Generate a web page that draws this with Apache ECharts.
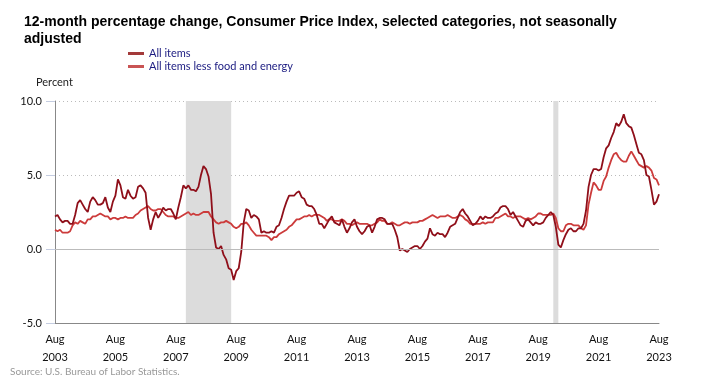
<!DOCTYPE html>
<html><head><meta charset="utf-8">
<script src="https://cdn.jsdelivr.net/npm/echarts@6/dist/echarts.min.js"></script>
<style>html,body{margin:0;padding:0;background:#fff}#c{width:707px;height:384px}</style>
</head><body><div id="c"></div>
<script>
// Monthly, Aug 2003 .. Aug 2023
const startYear = 2003, startMonth = 8;
const allItems = [
  2.2,2.3,2.0,1.8,1.9,
  1.9,1.7,1.7,2.3,3.1,3.3,3.0,2.7,2.5,3.2,3.5,3.3,
  3.0,3.0,3.1,3.5,2.8,2.5,3.2,3.6,4.7,4.3,3.5,3.4,
  4.0,3.6,3.4,3.5,4.2,4.3,4.1,3.8,2.1,1.3,2.0,2.5,
  2.1,2.4,2.8,2.6,2.7,2.7,2.4,2.0,2.8,3.5,4.3,4.1,
  4.3,4.0,4.0,3.9,4.2,5.0,5.6,5.4,4.9,3.7,1.1,0.1,
  0.0,0.2,-0.4,-0.7,-1.3,-1.4,-2.1,-1.5,-1.3,-0.2,1.8,2.7,
  2.6,2.1,2.3,2.2,2.0,1.1,1.2,1.1,1.1,1.2,1.1,1.5,
  1.6,2.1,2.7,3.2,3.6,3.6,3.6,3.8,3.9,3.5,3.4,3.0,
  2.9,2.9,2.7,2.3,1.7,1.7,1.4,1.7,2.0,2.2,1.8,1.7,
  1.6,2.0,1.5,1.1,1.4,1.8,2.0,1.5,1.2,1.0,1.2,1.5,
  1.6,1.1,1.5,2.0,2.1,2.1,2.0,1.7,1.7,1.7,1.3,0.8,
  -0.1,0.0,-0.1,-0.2,0.0,0.1,0.2,0.2,0.0,0.2,0.5,0.7,
  1.4,1.0,0.9,1.1,1.0,1.0,0.8,1.1,1.5,1.6,1.7,2.1,
  2.5,2.7,2.4,2.2,1.9,1.6,1.7,1.9,2.2,2.0,2.2,2.1,
  2.1,2.2,2.4,2.5,2.8,2.9,2.9,2.7,2.3,2.5,2.2,1.9,
  1.6,1.5,1.9,2.0,1.8,1.6,1.8,1.7,1.7,1.8,2.1,2.3,
  2.5,2.3,1.5,0.3,0.1,0.6,1.0,1.3,1.4,1.2,1.2,1.4,
  1.4,1.7,2.6,4.2,5.0,5.4,5.4,5.3,5.4,6.2,6.8,7.0,
  7.5,7.9,8.5,8.3,8.6,9.1,8.5,8.3,8.2,7.7,7.1,6.5,
  6.4,6.0,5.0,4.9,4.0,3.0,3.2,3.7
];
const lessFoodEnergy = [
  1.3,1.2,1.3,1.1,1.1,
  1.1,1.2,1.6,1.8,1.7,1.9,1.8,1.7,2.0,2.0,2.2,2.2,
  2.3,2.4,2.3,2.2,2.2,2.0,2.1,2.1,2.0,2.1,2.1,2.2,
  2.1,2.1,2.1,2.3,2.4,2.6,2.7,2.8,2.9,2.7,2.6,2.6,
  2.7,2.7,2.5,2.3,2.2,2.2,2.2,2.1,2.1,2.2,2.3,2.4,
  2.5,2.3,2.4,2.3,2.3,2.4,2.5,2.5,2.5,2.2,2.0,1.8,
  1.7,1.8,1.8,1.9,1.8,1.7,1.5,1.4,1.5,1.7,1.7,1.8,
  1.6,1.3,1.1,0.9,0.9,0.9,0.9,0.9,0.8,0.6,0.8,0.8,
  1.0,1.1,1.2,1.3,1.5,1.6,1.8,2.0,2.0,2.1,2.2,2.2,
  2.3,2.2,2.3,2.3,2.3,2.2,2.1,1.9,2.0,2.0,1.9,1.9,
  1.9,2.0,1.9,1.7,1.7,1.6,1.7,1.8,1.7,1.7,1.7,1.7,
  1.6,1.6,1.7,1.8,2.0,1.9,1.9,1.7,1.7,1.8,1.7,1.6,
  1.6,1.7,1.8,1.8,1.7,1.8,1.8,1.8,1.9,1.9,2.0,2.1,
  2.2,2.3,2.2,2.1,2.2,2.2,2.2,2.3,2.2,2.1,2.1,2.2,
  2.3,2.2,2.0,1.9,1.7,1.7,1.7,1.7,1.7,1.8,1.7,1.8,
  1.8,1.8,2.1,2.1,2.2,2.3,2.4,2.2,2.2,2.1,2.2,2.2,
  2.2,2.1,2.0,2.1,2.0,2.1,2.2,2.4,2.4,2.3,2.3,2.3,
  2.3,2.4,2.1,1.4,1.2,1.2,1.6,1.7,1.7,1.6,1.6,1.6,
  1.4,1.3,1.6,3.0,3.8,4.5,4.3,4.0,4.0,4.6,4.9,5.5,
  6.0,6.4,6.5,6.2,6.0,5.9,5.9,6.3,6.6,6.3,6.0,5.7,
  5.6,5.5,5.6,5.5,5.3,4.8,4.7,4.3
];
const monthNames = ['Jan','Feb','Mar','Apr','May','Jun','Jul','Aug','Sep','Oct','Nov','Dec'];
const yTicks = [-5, 0, 5, 10];
const recessions = [['2007-12','2009-06'], ['2020-02','2020-04']];

const categories = allItems.map((_, i) => {
  const m = startMonth - 1 + i;
  const y = startYear + Math.floor(m / 12);
  return y + '-' + String(m % 12 + 1).padStart(2, '0');
});

const chart = echarts.init(document.getElementById('c'));
const font = 'Lato, "Open Sans", sans-serif';
chart.setOption({
  animation: false,
  textStyle: { fontFamily: font },
  title: {
    text: '12-month percentage change, Consumer Price Index, selected categories, not seasonally\nadjusted',
    left: 19, top: 9,
    textStyle: { fontFamily: 'Liberation Sans, Arial, sans-serif', fontSize: 14, fontWeight: 'bold', color: '#000', lineHeight: 17 }
  },
  legend: {
    orient: 'vertical', left: 123, top: 43, itemGap: 2,
    itemWidth: 16, itemHeight: 3, icon: 'rect',
    textStyle: { fontSize: 11, color: '#1a1a80', fontFamily: font },
    data: ['All items', 'All items less food and energy']
  },
  graphic: [
    { type: 'text', left: 36, top: 77, style: { text: 'Percent', fontSize: 11, fill: '#222', fontFamily: font } },
    { type: 'text', left: 10, top: 367, style: { text: 'Source: U.S. Bureau of Labor Statistics.', fontSize: 10, fill: '#999', fontFamily: font } }
  ],
  grid: { left: 55, right: 48, top: 101, bottom: 61, containLabel: false },
  xAxis: {
    type: 'category', data: categories, boundaryGap: false,
    axisLine: { onZero: false, lineStyle: { color: '#888', width: 1 } },
    axisTick: { show: false },
    splitLine: { show: false },
    axisLabel: {
      interval: (i) => i % 24 === 0,
      color: '#111', fontSize: 11, lineHeight: 18, margin: 7,
      formatter: (v) => { const [y, m] = v.split('-'); return monthNames[+m - 1] + '\n' + y; }
    }
  },
  yAxis: {
    type: 'value', min: yTicks[0], max: yTicks[yTicks.length - 1], interval: 5,
    axisLine: { show: true, lineStyle: { color: '#888' } },
    axisTick: { show: true, length: 9, lineStyle: { color: '#c4cce0' } },
    axisLabel: { color: '#111', fontSize: 11, margin: 13, formatter: (v) => v.toFixed(1) },
    splitLine: { show: true, lineStyle: { color: '#bbb', type: [1, 3] } }
  },
  series: [
    {
      name: 'All items', type: 'line', data: allItems, showSymbol: false, symbol: 'none',
      lineStyle: { color: '#8f0f1a', width: 1.8 }, itemStyle: { color: '#a33a3a' }, z: 3,
      markArea: {
        silent: true, itemStyle: { color: '#dcdcdc' },
        data: recessions.map(r => [{ xAxis: r[0] }, { xAxis: r[1] }])
      },
      markLine: {
        silent: true, symbol: 'none', label: { show: false },
        lineStyle: { color: '#bbb', type: 'solid', width: 1 },
        data: [{ yAxis: 0 }]
      }
    },
    {
      name: 'All items less food and energy', type: 'line', data: lessFoodEnergy, showSymbol: false, symbol: 'none',
      lineStyle: { color: '#cc3b3b', width: 1.8 }, itemStyle: { color: '#c95454' }, z: 2
    }
  ]
});
</script></body></html>
